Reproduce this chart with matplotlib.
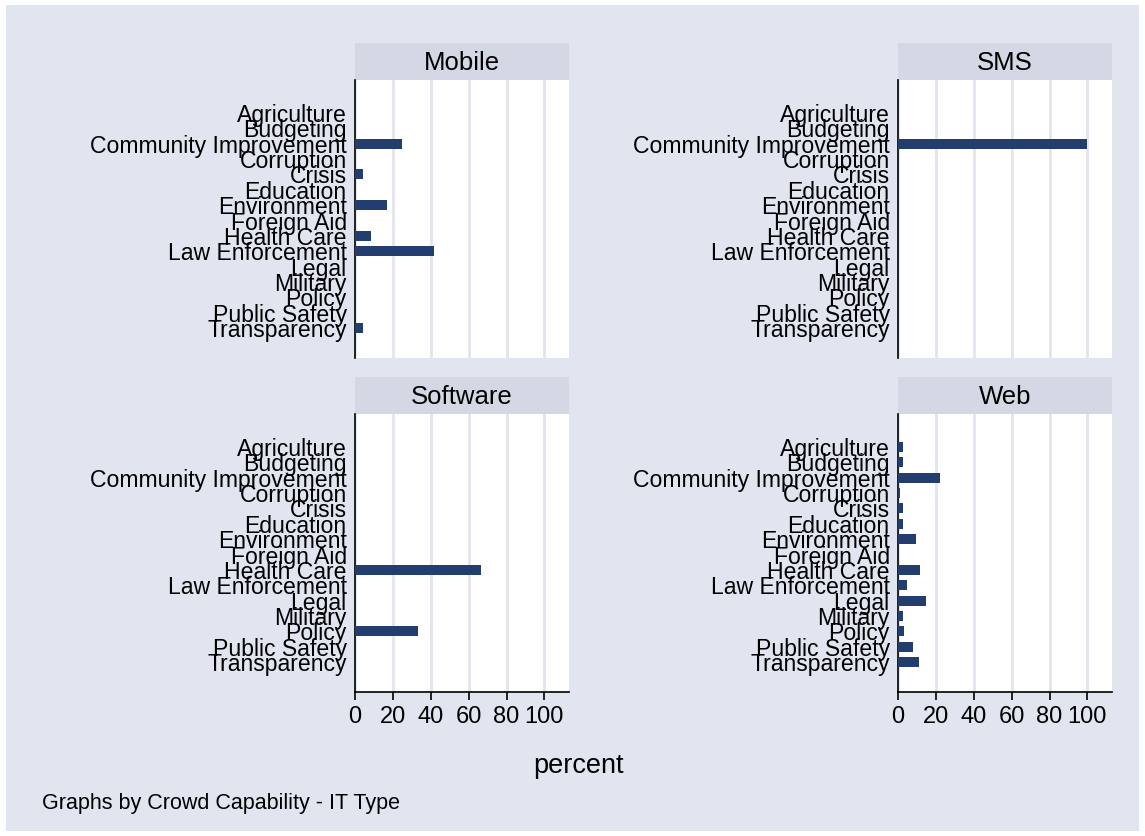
import numpy as np
import matplotlib
matplotlib.use('Agg')
import matplotlib.pyplot as plt
from matplotlib.patches import Rectangle

plt.rcParams['font.family'] = ['Liberation Sans', 'DejaVu Sans']

# categories (top to bottom) and percent share per IT type
categories = ['Agriculture', 'Budgeting', 'Community Improvement', 'Corruption',
              'Crisis', 'Education', 'Environment', 'Foreign Aid',
              'Health Care', 'Law Enforcement', 'Legal', 'Military',
              'Policy', 'Public Safety', 'Transparency']

mobile = [0, 0, 25.0, 0, 4.17, 0, 16.67, 0, 8.33, 41.67, 0, 0, 0, 0, 4.17]
sms = [0, 0, 100.0, 0, 0, 0, 0, 0, 0, 0, 0, 0, 0, 0, 0]
software = [0, 0, 0, 0, 0, 0, 0, 0, 66.67, 0, 0, 0, 33.33, 0, 0]
web = [2.7, 2.7, 22.0, 1.0, 2.7, 2.7, 9.5, 0, 11.8, 5.0, 14.8, 2.7, 3.3, 8.1, 11.1]

panel_titles = ['Mobile', 'SMS', 'Software', 'Web']
panel_values = [mobile, sms, software, web]
x_ticks = [0, 20, 40, 60, 80, 100]

bg_color = '#e1e5f0'
strip_color = '#d3d8e4'
bar_color = '#233d6e'
grid_color = '#e2e5ee'

W, H = 1145, 836
fig = plt.figure(figsize=(W / 100, H / 100), dpi=100)
fig.patch.set_facecolor('white')
fig.patches.append(Rectangle((6 / W, 5 / H), (W - 12) / W, (H - 10) / H,
                             transform=fig.transFigure, facecolor=bg_color,
                             edgecolor='none', zorder=-10))


def px_box(x0, y0, x1, y1):
    # pixel box (top-left origin) to figure fraction
    return [x0 / W, (H - y1) / H, (x1 - x0) / W, (y1 - y0) / H]


col_x = [(355, 569), (898, 1112)]
row_y = [(43, 80, 358), (377, 414, 692)]

y_pos = np.arange(len(categories))

for k, (title, vals) in enumerate(zip(panel_titles, panel_values)):
    r, c = divmod(k, 2)
    x0, x1 = col_x[c]
    s0, p0, p1 = row_y[r]

    # strip with the panel title
    sax = fig.add_axes(px_box(x0, s0, x1, p0))
    sax.set_facecolor(strip_color)
    sax.set_xticks([])
    sax.set_yticks([])
    for sp in sax.spines.values():
        sp.set_visible(False)
    sax.text(0.5, 0.45, title, ha='center', va='center', fontsize=18.5,
             transform=sax.transAxes)

    ax = fig.add_axes(px_box(x0, p0, x1, p1))
    ax.set_facecolor('white')
    ax.barh(y_pos, vals, height=0.65, color=bar_color, zorder=3)
    ax.set_xlim(0, 113)
    ax.set_ylim(15.95, -2.15)
    ax.set_xticks(x_ticks)
    ax.grid(axis='x', color=grid_color, linewidth=2, zorder=0)
    ax.set_yticks(y_pos)
    ax.set_yticklabels(categories, fontsize=16.6)
    ax.tick_params(axis='y', length=0, pad=6)
    for side in ['top', 'right']:
        ax.spines[side].set_visible(False)
    ax.spines['left'].set_linewidth(1.2)
    if r == 0:
        ax.spines['bottom'].set_visible(False)
        ax.tick_params(axis='x', length=0, labelbottom=False)
    else:
        ax.spines['bottom'].set_linewidth(1.2)
        ax.tick_params(axis='x', length=6, width=1.2, labelsize=17, pad=4)

fig.text(578 / W, 1 - 766 / H, 'percent', ha='center', va='center', fontsize=19.5)
fig.text(42 / W, 1 - 803 / H, 'Graphs by Crowd Capability - IT Type',
         ha='left', va='center', fontsize=15.5)

fig.savefig('out.png', dpi=100, facecolor=fig.get_facecolor())
